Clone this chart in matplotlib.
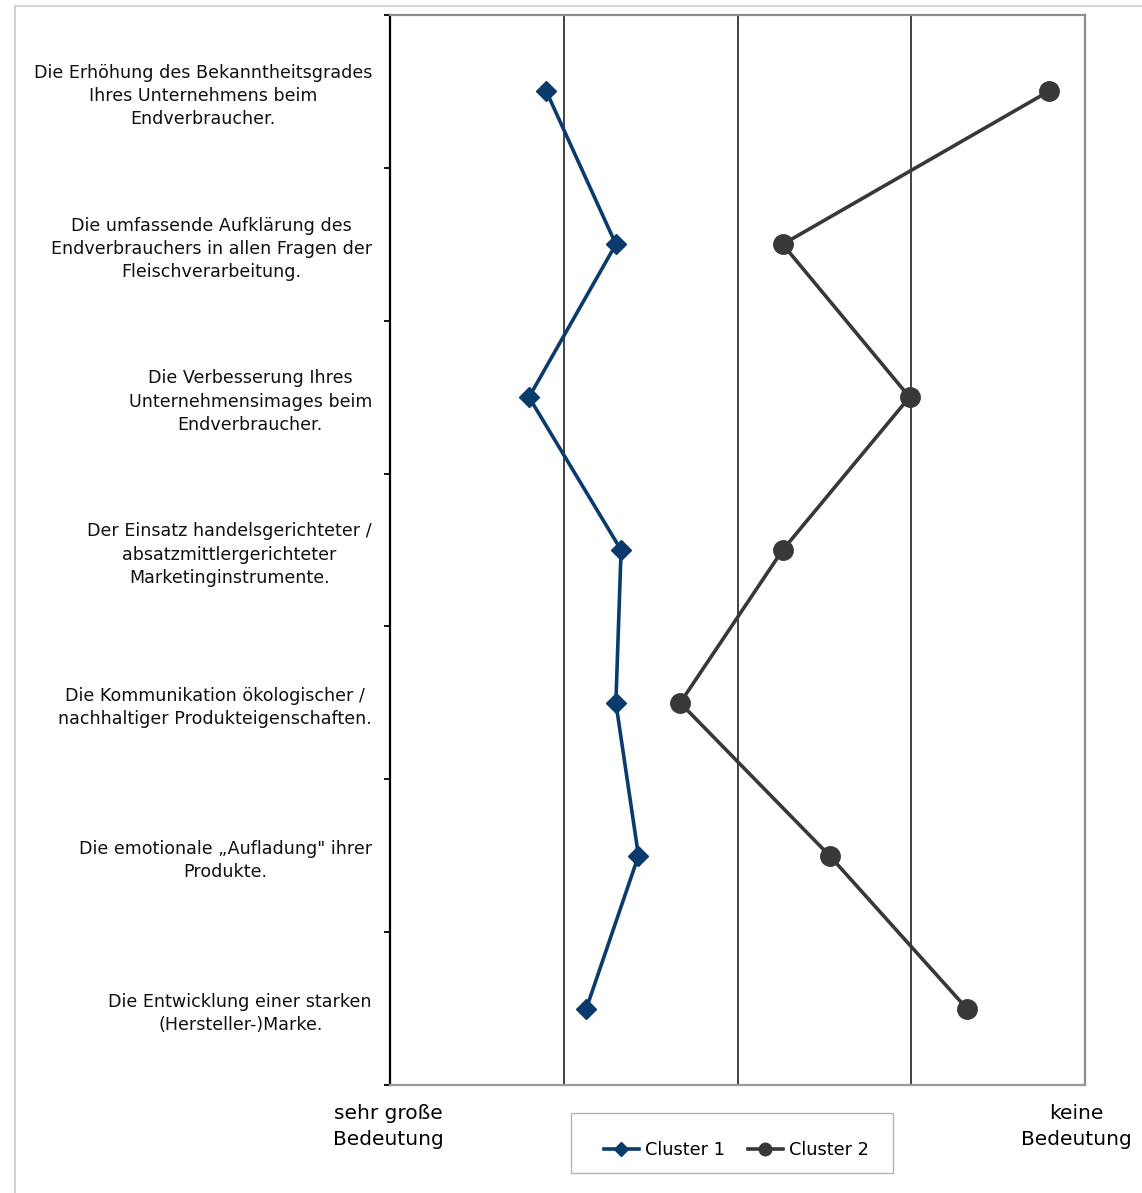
import matplotlib
matplotlib.use("Agg")
import matplotlib.pyplot as plt
from matplotlib.lines import Line2D
from matplotlib.patches import Rectangle
import numpy as np

categories = [
    "Die Erhöhung des Bekanntheitsgrades\nIhres Unternehmens beim\nEndverbraucher.",
    "Die umfassende Aufklärung des\nEndverbrauchers in allen Fragen der\nFleischverarbeitung.",
    "Die Verbesserung Ihres\nUnternehmensimages beim\nEndverbraucher.",
    "Der Einsatz handelsgerichteter /\nabsatzmittlergerichteter\nMarketinginstrumente.",
    "Die Kommunikation ökologischer /\nnachhaltiger Produkteigenschaften.",
    "Die emotionale „Aufladung\" ihrer\nProdukte.",
    "Die Entwicklung einer starken\n(Hersteller-)Marke.",
]
cluster1 = [1.90, 2.30, 1.80, 2.33, 2.30, 2.43, 2.13]
cluster2 = [4.79, 3.26, 3.99, 3.26, 2.67, 3.53, 4.32]
series_names = ["Cluster 1", "Cluster 2"]
scale_labels = ["sehr große\nBedeutung", "keine\nBedeutung"]

plt.rcParams['font.family'] = ['DejaVu Sans']

W, H = 1142, 1193
fig = plt.figure(figsize=(W / 100, H / 100), dpi=100)
ax = fig.add_axes([390 / W, 1 - 1085 / H, 695 / W, 1070 / H])

y = np.arange(len(categories))
c1_color = "#0b3a6c"
c2_color = "#383838"

ax.plot(cluster1, y, color=c1_color, lw=2.6, marker="D", ms=10.5,
        label=series_names[0], zorder=3)
ax.plot(cluster2, y, color=c2_color, lw=2.6, marker="o", ms=14,
        label=series_names[1], zorder=3)

ax.set_xlim(1, 5)
ax.set_ylim(len(categories) - 0.5, -0.5)

# vertical grid lines
ax.set_xticks([2, 3, 4])
ax.set_xticklabels([])
ax.tick_params(axis="x", length=0)
ax.grid(axis="x", color="#333333", lw=1.3, zorder=1)
ax.set_axisbelow(True)

# y labels at category centres, ticks at boundaries
ax.set_yticks(y)
ax.set_yticklabels(categories, fontsize=12.6, color="#111111")
ax.tick_params(axis="y", which="major", length=0, pad=13)
for t in ax.get_yticklabels():
    t.set_multialignment("center")
    t.set_linespacing(1.38)
ax.set_yticks(np.arange(-0.5, len(categories) + 0.5, 1), minor=True)
ax.tick_params(axis="y", which="minor", length=4, width=1.3, color="black",
               direction="out")

ax.spines["left"].set_color("black")
ax.spines["left"].set_linewidth(1.6)
ax.spines["bottom"].set_color("#9a9a9a")
ax.spines["bottom"].set_linewidth(1.6)
ax.spines["top"].set_color("#8c8c8c")
ax.spines["top"].set_linewidth(1.6)
ax.spines["right"].set_color("#8c8c8c")
ax.spines["right"].set_linewidth(1.6)

# scale end labels
trans = ax.get_xaxis_transform()
ax.text(0.99, -0.0385, scale_labels[0], transform=trans, ha="center",
        va="center", fontsize=14.5, color="#000000", linespacing=1.45,
        clip_on=False)
ax.text(4.948, -0.0385, scale_labels[1], transform=trans, ha="center",
        va="center", fontsize=14.5, color="#000000", linespacing=1.45,
        clip_on=False)

# legend with manual box
fig.add_artist(Rectangle((571 / W, 1 - 1173 / H), 322 / W, 60 / H,
                         transform=fig.transFigure, fill=False,
                         edgecolor="#b4b4b4", lw=1.0))
h1 = Line2D([], [], color=c1_color, lw=2.6, marker="D", ms=7)
h2 = Line2D([], [], color=c2_color, lw=2.6, marker="o", ms=9)
fig.legend([h1, h2], series_names, loc="center",
           bbox_to_anchor=(736 / W, 1 - 1150 / H), ncol=2, frameon=False,
           fontsize=12.8, handlelength=2.0, handletextpad=0.3,
           columnspacing=1.3, borderpad=0)

# outer page border lines
fig.add_artist(Line2D([15 / W, 1], [1 - 6 / H, 1 - 6 / H],
                      transform=fig.transFigure, color="#d6d6d6", lw=1.5))
fig.add_artist(Line2D([15 / W, 15 / W], [0, 1 - 6 / H],
                      transform=fig.transFigure, color="#d0d0d0", lw=1.5))

fig.savefig("out.png", dpi=100, facecolor="white")
